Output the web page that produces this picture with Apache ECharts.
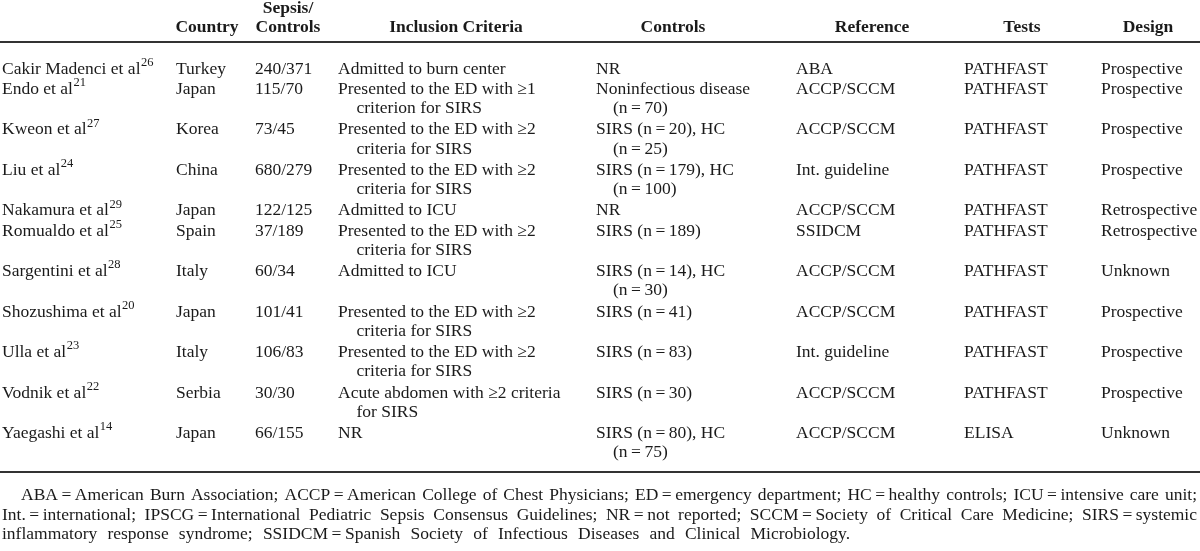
<!DOCTYPE html>
<html><head><meta charset="utf-8">
<script src="https://cdn.jsdelivr.net/npm/echarts@6/dist/echarts.min.js"></script>
<style>html,body{margin:0;padding:0;background:#fff}#c{width:1200px;height:551px}</style>
</head><body><div id="c"></div>
<script>
// ---- table content ----
const headerTop = ['', '', 'Sepsis/', '', '', '', '', ''];
const headers = ['', 'Country', 'Controls', 'Inclusion Criteria', 'Controls', 'Reference', 'Tests', 'Design'];
const studies = ['Cakir Madenci et al', 'Endo et al', 'Kweon et al', 'Liu et al', 'Nakamura et al', 'Romualdo et al', 'Sargentini et al', 'Shozushima et al', 'Ulla et al', 'Vodnik et al', 'Yaegashi et al'];
const refNums = ['26', '21', '27', '24', '29', '25', '28', '20', '23', '22', '14'];
const countries = ['Turkey', 'Japan', 'Korea', 'China', 'Japan', 'Spain', 'Italy', 'Japan', 'Italy', 'Serbia', 'Japan'];
const sepsisControls = ['240/371', '115/70', '73/45', '680/279', '122/125', '37/189', '60/34', '101/41', '106/83', '30/30', '66/155'];
const inclusion = [
  ['Admitted to burn center'],
  ['Presented to the ED with \u22651', 'criterion for SIRS'],
  ['Presented to the ED with \u22652', 'criteria for SIRS'],
  ['Presented to the ED with \u22652', 'criteria for SIRS'],
  ['Admitted to ICU'],
  ['Presented to the ED with \u22652', 'criteria for SIRS'],
  ['Admitted to ICU'],
  ['Presented to the ED with \u22652', 'criteria for SIRS'],
  ['Presented to the ED with \u22652', 'criteria for SIRS'],
  ['Acute abdomen with \u22652 criteria', 'for SIRS'],
  ['NR']
];
const controls = [
  ['NR'],
  ['Noninfectious disease', '(n\u2009=\u200970)'],
  ['SIRS (n\u2009=\u200920), HC', '(n\u2009=\u200925)'],
  ['SIRS (n\u2009=\u2009179), HC', '(n\u2009=\u2009100)'],
  ['NR'],
  ['SIRS (n\u2009=\u2009189)'],
  ['SIRS (n\u2009=\u200914), HC', '(n\u2009=\u200930)'],
  ['SIRS (n\u2009=\u200941)'],
  ['SIRS (n\u2009=\u200983)'],
  ['SIRS (n\u2009=\u200930)'],
  ['SIRS (n\u2009=\u200980), HC', '(n\u2009=\u200975)']
];
const references = ['ABA', 'ACCP/SCCM', 'ACCP/SCCM', 'Int. guideline', 'ACCP/SCCM', 'SSIDCM', 'ACCP/SCCM', 'ACCP/SCCM', 'Int. guideline', 'ACCP/SCCM', 'ACCP/SCCM'];
const tests = ['PATHFAST', 'PATHFAST', 'PATHFAST', 'PATHFAST', 'PATHFAST', 'PATHFAST', 'PATHFAST', 'PATHFAST', 'PATHFAST', 'PATHFAST', 'ELISA'];
const designs = ['Prospective', 'Prospective', 'Prospective', 'Prospective', 'Retrospective', 'Retrospective', 'Unknown', 'Prospective', 'Prospective', 'Prospective', 'Unknown'];
const footLines = [
  'ABA\u2009=\u2009American Burn Association; ACCP\u2009=\u2009American College of Chest Physicians; ED\u2009=\u2009emergency department; HC\u2009=\u2009healthy controls; ICU\u2009=\u2009intensive care unit;',
  'Int.\u2009=\u2009international; IPSCG\u2009=\u2009International Pediatric Sepsis Consensus Guidelines; NR\u2009=\u2009not reported; SCCM\u2009=\u2009Society of Critical Care Medicine; SIRS\u2009=\u2009systemic',
  'inflammatory response syndrome; SSIDCM\u2009=\u2009Spanish Society of Infectious Diseases and Clinical Microbiology.'
];

// ---- layout / style ----
const FAM = '"Liberation Serif", "Times New Roman", serif';
const FS = 17.5;
const FONT = FS + 'px ' + FAM;
const BFONT = 'bold ' + FS + 'px ' + FAM;
const SFONT = '12.5px ' + FAM;
const COLOR = '#1a1a1a';
const colX = [2, 176, 255, 338, 596, 796, 964, 1101];
const contIndent = [0, 0, 0, 18.5, 17, 0, 0, 0];
const headCenter = [0, 207, 288, 456, 673, 872, 1022, 1148];
const headY = 27, headTopY = 8;
const firstRowY = 69, lineStep = 20.25, innerStep = 19.3;
const ruleTop = 42, ruleBottom = 472;
const footY = [495.5, 515, 534], footLeft = 2, footRight = 1197, footIndent = 21, footLastRight = 850;

const ctx = document.createElement('canvas').getContext('2d');
function measure(t, f) { ctx.font = f; return ctx.measureText(t).width; }
function txt(t, x, y, f, align) {
  return { type: 'text', silent: true, style: { text: t, x: x, y: y, font: f, fill: COLOR, align: align || 'left', verticalAlign: 'middle' } };
}

const els = [];
// header
headers.forEach((h, i) => { if (h) els.push(txt(h, headCenter[i], headY, BFONT, 'center')); });
headerTop.forEach((h, i) => { if (h) els.push(txt(h, headCenter[i], headTopY, BFONT, 'center')); });
// rules
[ruleTop, ruleBottom].forEach(y => els.push({ type: 'line', silent: true, shape: { x1: 0, y1: y, x2: 1200, y2: y }, style: { stroke: '#333', lineWidth: 2 } }));

// body rows
let cum = 0;
studies.forEach((s, r) => {
  const y = firstRowY + cum * lineStep;
  els.push(txt(s, colX[0], y, FONT));
  els.push(txt(refNums[r], colX[0] + measure(s, FONT) + 0.5, y - 6.5, SFONT));
  const cells = [null, [countries[r]], [sepsisControls[r]], inclusion[r], controls[r], [references[r]], [tests[r]], [designs[r]]];
  let maxLines = 1;
  cells.forEach((c, ci) => {
    if (!c) return;
    maxLines = Math.max(maxLines, c.length);
    c.forEach((line, li) => {
      els.push(txt(line, colX[ci] + (li > 0 ? contIndent[ci] : 0), y + li * innerStep, FONT));
    });
  });
  cum += maxLines;
});

// footnote (justified lines)
footLines.forEach((line, i) => {
  const words = line.split(' ');
  const left = i === 0 ? footIndent : footLeft;
  const right = i === footLines.length - 1 ? footLastRight : footRight;
  const widths = words.map(w => measure(w, FONT));
  const total = widths.reduce((a, b) => a + b, 0);
  const gap = (right - left - total) / (words.length - 1);
  let x = left;
  words.forEach((w, k) => { els.push(txt(w, x, footY[i], FONT)); x += widths[k] + gap; });
});

const chart = echarts.init(document.getElementById('c'), null, { renderer: 'canvas' });
chart.setOption({ backgroundColor: '#fff', animation: false, graphic: { elements: els } });
</script></body></html>
